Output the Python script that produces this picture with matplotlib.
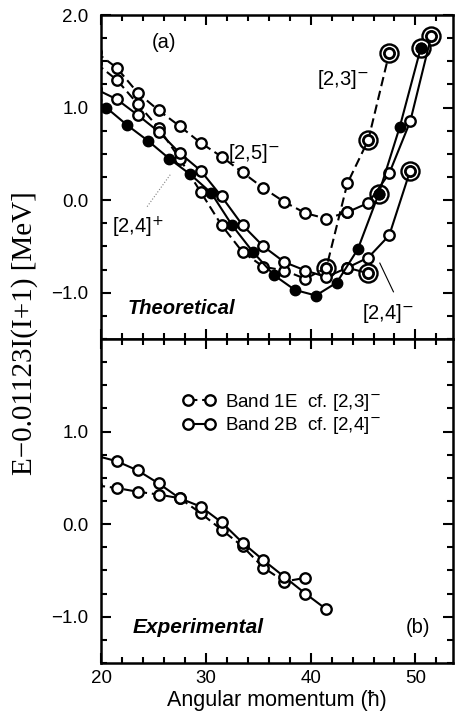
import numpy as np
import matplotlib
matplotlib.use("Agg")
import matplotlib.pyplot as plt
from matplotlib.ticker import MultipleLocator, FixedLocator, FixedFormatter

plt.rcParams['font.family'] = ['Liberation Sans', 'DejaVu Sans']

# ---- top panel (theoretical) ----
b25_x = [19.5, 21.5, 23.5, 25.5, 27.5, 29.5, 31.5, 33.5, 35.5, 37.5, 39.5, 41.5, 43.5]
b25_y = [1.60, 1.43, 1.16, 0.97, 0.80, 0.62, 0.47, 0.30, 0.13, -0.02, -0.14, -0.20, -0.13]

# solid high-spin continuation ending in the double circle
hi_x = [43.5, 45.5, 47.5, 49.5, 51.5]
hi_y = [-0.13, -0.03, 0.29, 0.85, 1.77]
hi_big = [51.5]

b23_x = [19.5, 21.5, 23.5, 25.5, 27.5, 29.5, 31.5, 33.5, 35.5, 37.5, 39.5, 41.5, 43.5, 45.5, 47.5]
b23_y = [1.48, 1.30, 1.04, 0.78, 0.45, 0.09, -0.27, -0.56, -0.72, -0.76, -0.85, -0.73, 0.18, 0.65, 1.59]
b23_big = [41.5, 45.5, 47.5]

b24p_x = [19.5, 20.5, 22.5, 24.5, 26.5, 28.5, 30.5, 32.5, 34.5, 36.5, 38.5, 40.5, 42.5, 44.5, 46.5, 48.5, 50.5]
b24p_y = [1.08, 1.00, 0.81, 0.64, 0.45, 0.28, 0.08, -0.27, -0.56, -0.81, -0.97, -1.03, -0.89, -0.53, 0.07, 0.79, 1.64]
b24p_big = [46.5, 50.5]

b24m_x = [19.5, 21.5, 23.5, 25.5, 27.5, 29.5, 31.5, 33.5, 35.5, 37.5, 39.5, 41.5, 43.5, 45.5, 47.5, 49.5]
b24m_y = [1.20, 1.09, 0.92, 0.74, 0.51, 0.32, 0.04, -0.27, -0.50, -0.67, -0.76, -0.83, -0.73, -0.62, -0.38, 0.32]
b24m_big = [49.5]

b24s_x = [43.5, 45.5]
b24s_y = [-0.73, -0.79]

# ---- bottom panel (experimental) ----
e1_x = [19.5, 21.5, 23.5, 25.5, 27.5, 29.5, 31.5, 33.5, 35.5, 37.5, 39.5]
e1_y = [0.42, 0.39, 0.35, 0.32, 0.28, 0.12, -0.06, -0.24, -0.47, -0.62, -0.58]
e2_x = [19.5, 21.5, 23.5, 25.5, 27.5, 29.5, 31.5, 33.5, 35.5, 37.5, 39.5, 41.5]
e2_y = [0.74, 0.68, 0.58, 0.44, 0.28, 0.19, 0.02, -0.20, -0.39, -0.57, -0.75, -0.92]

fig = plt.figure(figsize=(4.55, 7.19), dpi=100)
ax1 = fig.add_axes([0.222, 0.5285, 0.774, 0.4506])
ax2 = fig.add_axes([0.222, 0.0779, 0.774, 0.4506])

mk = dict(marker='o', ms=7.5, mfc='white', mec='black', mew=1.7, color='black', lw=1.5)
dash = (0, (4.5, 2.3))


def big(ax, xs, ys, pick, fill='white'):
    for xv, yv in zip(xs, ys):
        if xv in pick:
            ax.plot(xv, yv, 'o', ms=13, mfc='white', mec='black', mew=1.7, zorder=1)
            ax.plot(xv, yv, 'o', ms=7, mfc=fill, mec='black', mew=1.7, zorder=4)


ax1.plot(b25_x, b25_y, ls=dash, **mk)
ax1.plot(hi_x, hi_y, ls='-', **mk)
ax1.plot(b23_x, b23_y, ls=dash, **mk)
ax1.plot(b24m_x, b24m_y, ls='-', **mk)
ax1.plot(b24s_x, b24s_y, ls='-', **mk)
ax1.plot(b24p_x, b24p_y, ls='-', marker='o', ms=7.5, mfc='black', mec='black', color='black', lw=1.5)
big(ax1, hi_x, hi_y, hi_big)
big(ax1, b23_x, b23_y, b23_big)
big(ax1, b24m_x, b24m_y, b24m_big)
big(ax1, b24s_x, b24s_y, [45.5])
big(ax1, b24p_x, b24p_y, b24p_big, fill='black')

lab = 14.5
ax1.text(26.0, 1.70, '(a)', fontsize=lab, ha='center', va='center')
ax1.text(34.6, 0.50, '[2,5]$^{-}$', fontsize=lab, ha='center', va='center')
ax1.text(43.1, 1.30, '[2,3]$^{-}$', fontsize=lab, ha='center', va='center')
ax1.text(23.5, -0.29, '[2,4]$^{+}$', fontsize=lab, ha='center', va='center')
ax1.text(47.4, -1.22, '[2,4]$^{-}$', fontsize=lab, ha='center', va='center')
ax1.plot([24.4, 26.7], [-0.07, 0.29], ls=':', color='gray', lw=0.8)
ax1.plot([46.6, 47.9], [-0.68, -0.99], ls='-', color='black', lw=0.8)
ax1.text(22.5, -1.17, 'Theoretical', fontsize=14.5, fontweight='bold', style='italic', va='center')

ax2.plot(e1_x, e1_y, ls=dash, label='Band 1E  cf. [2,3]$^{-}$', **mk)
ax2.plot(e2_x, e2_y, ls='-', label='Band 2B  cf. [2,4]$^{-}$', **mk)
ax2.text(50.2, -1.12, '(b)', fontsize=lab, ha='center', va='center')
ax2.text(23.0, -1.12, 'Experimental', fontsize=15, fontweight='bold', style='italic', va='center')
ax2.legend(loc='upper left', bbox_to_anchor=(0.21, 0.86), frameon=False, fontsize=13.5,
           numpoints=2, handlelength=1.77, handletextpad=0.5, labelspacing=0.13,
           borderaxespad=0)

for ax in (ax1, ax2):
    ax.set_xlim(20, 53.6)
    ax.set_ylim(-1.5, 2.0)
    ax.xaxis.set_major_locator(MultipleLocator(10))
    ax.xaxis.set_minor_locator(MultipleLocator(2))
    ax.yaxis.set_minor_locator(MultipleLocator(0.25))
    ax.tick_params(which='both', direction='in', top=True, right=True, width=1.5, labelsize=13.5)
    ax.tick_params(axis='y', which='both', pad=9)
    ax.tick_params(axis='x', which='both', pad=5)
    ax.tick_params(which='major', length=7)
    ax.tick_params(which='minor', length=4)
    for s in ax.spines.values():
        s.set_linewidth(1.8)

ax1.yaxis.set_major_locator(FixedLocator([-1, 0, 1, 2]))
ax1.yaxis.set_major_formatter(FixedFormatter(['\u22121.0', '0.0', '1.0', '2.0']))
ax1.tick_params(labelbottom=False)
ax2.yaxis.set_major_locator(FixedLocator([-1, 0, 1]))
ax2.yaxis.set_major_formatter(FixedFormatter(['\u22121.0', '0.0', '1.0']))
ax2.set_xticks([20, 30, 40, 50])
ax2.set_xlabel('Angular momentum (\u0127)', fontsize=15.5, labelpad=2)

fig.text(0.053, 0.537, 'E\u22120.01123I(I+1) [MeV]', rotation=90, ha='center', va='center',
         fontsize=21, family='Liberation Serif')

fig.savefig('out.png', dpi=100)
